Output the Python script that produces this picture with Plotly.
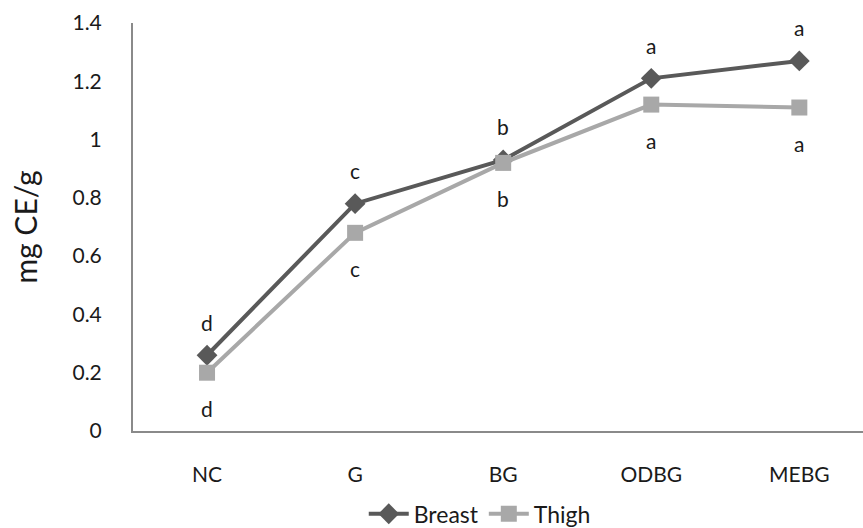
import plotly.graph_objects as go

categories = ["NC", "G", "BG", "ODBG", "MEBG"]
breast = [0.26, 0.78, 0.93, 1.21, 1.27]
thigh = [0.20, 0.68, 0.92, 1.12, 1.11]
breast_letters = ["d", "c", "b", "a", "a"]
thigh_letters = ["d", "c", "b", "a", "a"]
y_ticks = [0, 0.2, 0.4, 0.6, 0.8, 1.0, 1.2, 1.4]
y_tick_text = ["0", "0.2", "0.4", "0.6", "0.8", "1", "1.2", "1.4"]

FONT = "Lato, Open Sans, sans-serif"
DARK = "#595959"
LIGHT = "#a8a8a8"
TXT = "#1a1a1a"

fig = go.Figure()
fig.add_trace(go.Scatter(
    x=categories, y=breast, name="Breast", mode="lines+markers",
    line=dict(color=DARK, width=4),
    marker=dict(symbol="diamond", size=16, color=DARK),
))
fig.add_trace(go.Scatter(
    x=categories, y=thigh, name="Thigh", mode="lines+markers",
    line=dict(color=LIGHT, width=4),
    marker=dict(symbol="square", size=16, color=LIGHT),
))

for c, v, t in zip(categories, breast, breast_letters):
    fig.add_annotation(x=c, y=v, text=t, showarrow=False, yshift=33,
                       font=dict(family=FONT, size=21, color=TXT))
for c, v, t in zip(categories, thigh, thigh_letters):
    fig.add_annotation(x=c, y=v, text=t, showarrow=False, yshift=-36,
                       font=dict(family=FONT, size=21, color=TXT))

fig.update_layout(
    width=863, height=528,
    margin=dict(l=133, r=0, t=23, b=97, autoexpand=False),
    paper_bgcolor="white", plot_bgcolor="white",
    font=dict(family=FONT, size=21, color=TXT),
    showlegend=True,
    legend=dict(orientation="h", x=0.475, xanchor="center", y=-0.203, yanchor="middle",
                font=dict(family=FONT, size=23, color=TXT),
                itemwidth=40, tracegroupgap=0),
    xaxis=dict(
        type="category", range=[-0.5, 4.43], automargin=False,
        showline=True, linecolor="#8a8a8a", linewidth=2,
        showgrid=False, zeroline=False, ticks="",
        ticklabelstandoff=24,
        tickfont=dict(family=FONT, size=21, color=TXT),
    ),
    yaxis=dict(
        range=[0, 1.4], tickvals=y_ticks, ticktext=y_tick_text, automargin=False,
        showline=True, linecolor="#8a8a8a", linewidth=2,
        showgrid=False, zeroline=False, ticks="",
        ticklabelstandoff=25,
        tickfont=dict(family=FONT, size=21, color=TXT),
        title=dict(text="mg CE/g", font=dict(family=FONT, size=30, color=TXT), standoff=26),
    ),
)

fig.write_html("out.html", config={"displayModeBar": False},
               post_script="document.body.style.margin='0';")
